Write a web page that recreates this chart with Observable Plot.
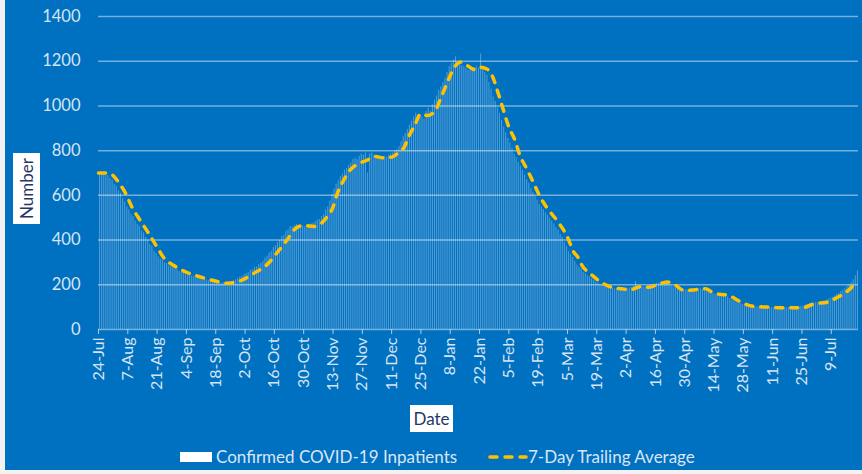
<!DOCTYPE html>
<html>
<head>
<meta charset="utf-8">
<script src="https://cdn.jsdelivr.net/npm/d3@7"></script>
<script src="https://cdn.jsdelivr.net/npm/@observablehq/plot@0.6"></script>
<style>
  html, body { margin: 0; padding: 0; }
  body { width: 862px; height: 474px; background: #0070C0; position: relative; overflow: hidden; font-family: Lato, "Open Sans", sans-serif; }
  #chart { position: absolute; left: 0; top: 0; }
  .box { position: absolute; background: #fff; color: #1F3864; font-size: 17px; display: flex; align-items: center; justify-content: center; }
  .box span { white-space: nowrap; }
  .legend { position: absolute; color: #D9E6F5; font-size: 17px; white-space: nowrap; line-height: 1; }
  .edge { position: absolute; background: #F2F2F2; }
</style>
</head>
<body>
<div id="chart"></div>
<div class="box" style="left:13px;top:153px;width:27px;height:71px;"><span style="transform:rotate(-90deg)">Number</span></div>
<div class="box" style="left:410px;top:405px;width:43px;height:27px;"><span>Date</span></div>
<div style="position:absolute;left:180px;top:452px;width:32px;height:10px;background:#fff;"></div>
<div class="legend" style="left:216px;top:448px;">Confirmed COVID-19 Inpatients</div>
<svg style="position:absolute;left:486px;top:451px;" width="42" height="12"><line x1="4" y1="6" x2="40" y2="6" stroke="#FFC000" stroke-width="3.5" stroke-linecap="round" stroke-dasharray="7,8"/></svg>
<div class="legend" style="left:528px;top:448px;">7-Day Trailing Average</div>
<div class="edge" style="left:0;top:0;width:5px;height:474px;"></div>
<div class="edge" style="left:0;top:470px;width:862px;height:4px;"></div>
<script>
// Daily confirmed COVID-19 inpatients, starting 24-Jul (one row per week)
const startDate = "2020-07-24";
const inpatients = [
  702, 698, 700, 690, 688, 676, 668,
  650, 640, 620, 610, 585, 570, 548,
  535, 515, 505, 485, 470, 462, 440,
  432, 412, 400, 380, 372, 350, 340,
  325, 315, 310, 298, 295, 284, 282,
  278, 270, 268, 260, 255, 255, 248,
  245, 244, 238, 238, 232, 232, 228,
  228, 222, 222, 218, 218, 214, 212,
  210, 210, 206, 210, 208, 213, 214,
  215, 220, 222, 230, 235, 238, 246,
  250, 255, 265, 268, 278, 280, 290,
  296, 305, 320, 328, 342, 350, 366,
  375, 390, 398, 415, 420, 438, 445,
  460, 458, 465, 470, 460, 465, 462,
  460, 465, 468, 472, 475, 482, 490,
  492, 505, 515, 535, 548, 575, 605,
  628, 650, 665, 684, 695, 712, 720,
  735, 745, 760, 768, 760, 775, 785,
  780, 790, 700, 785, 790, 780, 772,
  768, 772, 768, 775, 770, 780, 785,
  790, 800, 805, 818, 840, 862, 878,
  895, 915, 932, 950, 968, 960, 962,
  950, 940, 975, 990, 975, 1005, 1025,
  1045, 1070, 1085, 1105, 1125, 1150, 1175,
  1190, 1205, 1220, 1195, 1185, 1180, 1175,
  1168, 1160, 1165, 1170, 1172, 1175, 1168,
  1232, 1162, 1149, 1136, 1105, 1075, 1040,
  1020, 992, 965, 935, 905, 880, 855,
  835, 810, 785, 768, 748, 730, 712,
  690, 670, 655, 630, 612, 595, 578,
  560, 548, 536, 522, 510, 498, 485,
  472, 455, 445, 425, 412, 390, 370,
  348, 335, 322, 305, 288, 278, 270,
  256, 250, 240, 235, 226, 220, 212,
  208, 202, 198, 192, 190, 188, 185,
  185, 182, 182, 180, 180, 178, 178,
  182, 186, 188, 194, 215, 190, 188,
  190, 188, 192, 196, 200, 202, 205,
  206, 208, 212, 214, 208, 204, 200,
  195, 190, 184, 178, 174, 176, 178,
  178, 178, 180, 182, 180, 182, 182,
  182, 178, 172, 170, 165, 162, 160,
  158, 156, 155, 154, 152, 148, 145,
  138, 132, 128, 122, 118, 116, 112,
  110, 106, 104, 102, 103, 100, 101,
  100, 99, 101, 98, 99, 97, 98,
  97, 96, 98, 97, 95, 98, 97,
  97, 98, 96, 98, 97, 100, 104,
  106, 110, 112, 116, 118, 118, 120,
  120, 122, 122, 128, 130, 136, 140,
  145, 150, 158, 162, 170, 175, 182,
  192, 200, 210, 222, 240, 262
];

// 7-day trailing average (day offset from 24-Jul, value)
const avgDay = [0, 4, 7, 9, 13, 16, 20, 24, 28, 31, 36, 42, 49, 55, 61, 68, 74, 81, 85, 90,
  95, 98, 103, 107, 109, 112, 114, 117, 120, 124, 128, 132, 136, 140, 143, 146, 148, 151, 154, 157,
  161, 163, 165, 167, 170, 173, 176, 180, 182, 186, 188, 191, 193, 196, 199, 201, 205, 208, 211, 214,
  219, 224, 227, 229, 231, 235, 240, 245, 250, 254, 259, 263, 267, 272, 275, 280, 285, 290, 294, 301,
  307, 313, 320, 326, 336, 342, 348, 353, 358, 362];
const avgValue = [700, 700, 688, 666, 608, 547, 487, 429, 368, 323, 286, 256, 234, 219, 207, 219, 250, 295, 340, 400,
  458, 465, 461, 480, 502, 547, 607, 666, 711, 741, 756, 774, 768, 771, 789, 815, 860, 913, 965, 957,
  980, 1024, 1069, 1114, 1173, 1196, 1181, 1162, 1173, 1162, 1136, 1054, 994, 905, 845, 786, 711, 652, 592, 547,
  487, 413, 346, 323, 286, 249, 212, 189, 182, 178, 192, 189, 201, 212, 201, 174, 178, 182, 162, 152,
  122, 103, 100, 97, 97, 115, 122, 144, 174, 212];

// Axis ticks
const xTickLabels = ["24-Jul", "7-Aug", "21-Aug", "4-Sep", "18-Sep", "2-Oct", "16-Oct", "30-Oct",
  "13-Nov", "27-Nov", "11-Dec", "25-Dec", "8-Jan", "22-Jan", "5-Feb", "19-Feb", "5-Mar", "19-Mar",
  "2-Apr", "16-Apr", "30-Apr", "14-May", "28-May", "11-Jun", "25-Jun", "9-Jul"];
const yTicks = [0, 200, 400, 600, 800, 1000, 1200, 1400];

const start = new Date(startDate + "T00:00:00Z");
const dayAt = (k) => d3.utcDay.offset(start, k);
const bars = inpatients.map((v, i) => ({date: dayAt(i), value: v}));
const avg = avgDay.map((d, i) => ({date: dayAt(d), value: avgValue[i]}));
const xTicks = xTickLabels.map((_, i) => dayAt(i * 14));
const labelOf = new Map(xTicks.map((d, i) => [+d, xTickLabels[i]]));
const end = dayAt(inpatients.length);

const textColor = "#D6E4F3";
const chart = Plot.plot({
  width: 862,
  height: 440,
  marginLeft: 98,
  marginRight: 4,
  marginTop: 16,
  marginBottom: 111,
  style: {background: "transparent", color: textColor, fontFamily: "Lato, 'Open Sans', sans-serif", overflow: "visible"},
  x: {type: "utc", domain: [start, end]},
  y: {domain: [0, 1400]},
  marks: [
    Plot.ruleY(yTicks, {stroke: "#ffffff", strokeOpacity: 0.45, strokeWidth: 1.5}),
    Plot.rectY(bars, {x: "date", y: "value", interval: d3.utcDay, fill: "#ffffff", fillOpacity: 0.3}),
    Plot.line(avg, {x: "date", y: "value", stroke: "#FFC000", strokeWidth: 3.5, strokeDasharray: "7,8", strokeLinecap: "round", curve: "monotone-x"}),
    Plot.axisY({ticks: yTicks, tickSize: 0, tickPadding: 18, fontSize: 16.5, fill: textColor, label: null, tickFormat: (d) => String(d)}),
    Plot.axisX({ticks: xTicks, tickFormat: (d) => labelOf.get(+d), tickRotate: -90, tickSize: 5, tickPadding: 3, fontSize: 16, fill: textColor, stroke: "#cfe0f2", strokeOpacity: 0.8, label: null})
  ]
});
document.getElementById("chart").appendChild(chart);
</script>
</body>
</html>
